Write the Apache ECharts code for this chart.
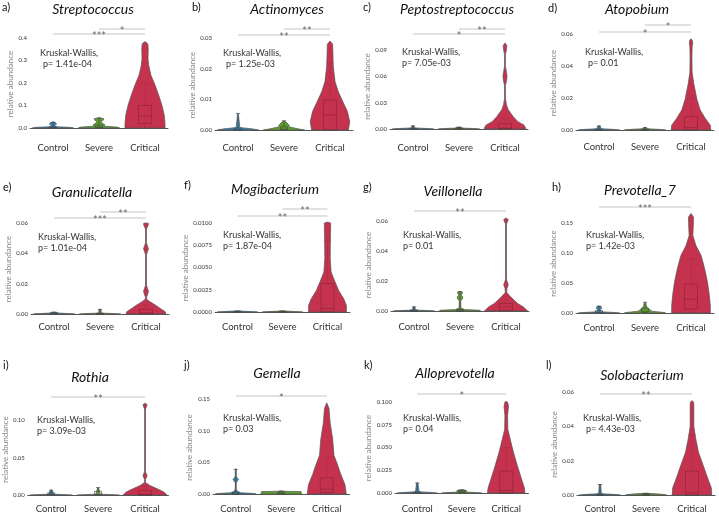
<!DOCTYPE html>
<html lang="en">
<head>
<meta charset="UTF-8">
<title>Relative abundance by severity</title>
<style>html,body{margin:0;padding:0;background:#fff;}</style>
</head>
<body>
<div id="chart" style="width:719px;height:514px;"></div>
<script src="https://cdn.jsdelivr.net/npm/echarts@6/dist/echarts.min.js"></script>
<script>
// ---- data ----
var groups = ['Control', 'Severe', 'Critical'];
var panelTags = ['a)', 'b)', 'c)', 'd)', 'e)', 'f)', 'g)', 'h)', 'i)', 'j)', 'k)', 'l)'];
var genera = ['Streptococcus', 'Actinomyces', 'Peptostreptococcus', 'Atopobium',
    'Granulicatella', 'Mogibacterium', 'Veillonella', 'Prevotella_7',
    'Rothia', 'Gemella', 'Alloprevotella', 'Solobacterium'];
var kwPvalues = ['1.41e-04', '1.25e-03', '7.05e-03', '0.01', '1.01e-04', '1.87e-04',
    '0.01', '1.42e-03', '3.09e-03', '0.03', '0.04', '4.43e-03'];

var yTicks = [
    [0, 0.1, 0.2, 0.3, 0.4], [0, 0.01, 0.02, 0.03], [0, 0.03, 0.06, 0.09], [0, 0.02, 0.04, 0.06],
    [0, 0.02, 0.04, 0.06], [0, 0.0025, 0.005, 0.0075, 0.01], [0, 0.02, 0.04, 0.06], [0, 0.05, 0.1, 0.15],
    [0, 0.05, 0.1], [0, 0.05, 0.1, 0.15], [0, 0.025, 0.05, 0.075, 0.1], [0, 0.02, 0.04, 0.06]
];
var tickDigits = [1, 2, 2, 2, 2, 4, 2, 2, 2, 2, 3, 2];

// violin outlines: [value, half width as share of the category band]
var controlViolin = [
    [[0, 0.45], [0.003, 0.35], [0.006, 0.05], [0.012, 0.04], [0.018, 0.08], [0.024, 0.05], [0.028, 0]],
    [[0, 0.45], [0.0004, 0.3], [0.0008, 0.04], [0.005, 0.01], [0.0053, 0]],
    [[0, 0.45], [0.0006, 0.3], [0.0012, 0.03], [0.0035, 0.02], [0.0038, 0]],
    [[0, 0.45], [0.0004, 0.3], [0.0008, 0.05], [0.0025, 0.02], [0.0027, 0]],
    [[0, 0.45], [0.0003, 0.3], [0.0006, 0.1], [0.001, 0.08], [0.0012, 0]],
    [[0, 0.45], [0.00005, 0.3], [0.0001, 0.1], [0.00015, 0]],
    [[0, 0.45], [0.0003, 0.3], [0.0006, 0.03], [0.0027, 0.02], [0.003, 0]],
    [[0, 0.45], [0.001, 0.3], [0.002, 0.05], [0.005, 0.02], [0.008, 0.06], [0.011, 0.04], [0.012, 0]],
    [[0, 0.45], [0.0006, 0.3], [0.0012, 0.05], [0.003, 0.04], [0.0065, 0.02], [0.007, 0]],
    [[0, 0.45], [0.001, 0.4], [0.002, 0.12], [0.004, 0.04], [0.008, 0.01], [0.018, 0.01], [0.021, 0.04],
        [0.023, 0.06], [0.025, 0.04], [0.028, 0.01], [0.039, 0.01], [0.04, 0]],
    [[0, 0.45], [0.0007, 0.3], [0.0015, 0.04], [0.011, 0.015], [0.0115, 0]],
    [[0, 0.45], [0.0004, 0.3], [0.0008, 0.03], [0.006, 0.015], [0.0063, 0]]
];
var severeViolin = [
    [[0, 0.45], [0.004, 0.4], [0.008, 0.12], [0.016, 0.12], [0.022, 0.06], [0.03, 0.05], [0.036, 0.1], [0.042, 0.1], [0.045, 0]],
    [[0, 0.45], [0.0004, 0.3], [0.001, 0.12], [0.0018, 0.1], [0.0025, 0.05], [0.003, 0]],
    [[0, 0.45], [0.0006, 0.3], [0.001, 0.08], [0.0018, 0.06], [0.0022, 0]],
    [[0, 0.45], [0.0004, 0.3], [0.0008, 0.04], [0.0015, 0.02], [0.0017, 0]],
    [[0, 0.45], [0.0003, 0.3], [0.0006, 0.03], [0.003, 0.02], [0.0032, 0]],
    [[0, 0.45], [0.00005, 0.3], [0.0001, 0.1], [0.00015, 0]],
    [[0, 0.45], [0.0005, 0.43], [0.001, 0.1], [0.002, 0.02], [0.007, 0.015], [0.008, 0.055], [0.0095, 0.06],
        [0.0104, 0.03], [0.011, 0.03], [0.0116, 0.055], [0.0125, 0.05], [0.013, 0]],
    [[0, 0.45], [0.001, 0.4], [0.003, 0.15], [0.006, 0.1], [0.009, 0.05], [0.012, 0.03], [0.016, 0.02], [0.018, 0]],
    [[0, 0.45], [0.0006, 0.3], [0.0012, 0.04], [0.008, 0.02], [0.01, 0]],
    [[0, 0.45], [0.004, 0.43], [0.0045, 0]],
    [[0, 0.45], [0.0006, 0.3], [0.001, 0.12], [0.003, 0.1], [0.0035, 0]],
    [[0, 0.45], [0.0003, 0.4], [0.0008, 0.2], [0.001, 0]]
];
var criticalViolin = [
    [[0, 0.435], [0.019, 0.435], [0.056, 0.42], [0.1, 0.37], [0.145, 0.3], [0.19, 0.22], [0.234, 0.13],
        [0.279, 0.08], [0.308, 0.065], [0.353, 0.07], [0.375, 0.06], [0.384, 0]],
    [[0, 0.4], [0.0027, 0.43], [0.006, 0.38], [0.0092, 0.28], [0.0125, 0.18], [0.0158, 0.11], [0.021, 0.07],
        [0.028, 0.058], [0.029, 0]],
    [[0, 0.45], [0.001, 0.45], [0.0046, 0.41], [0.0084, 0.28], [0.014, 0.18], [0.022, 0.07], [0.028, 0.03],
        [0.035, 0.01], [0.05, 0.01], [0.054, 0.03], [0.06, 0.045], [0.065, 0.03], [0.072, 0.01], [0.085, 0.01],
        [0.09, 0.03], [0.095, 0.04], [0.098, 0]],
    [[0, 0.43], [0.003, 0.42], [0.0073, 0.31], [0.0125, 0.2], [0.019, 0.13], [0.029, 0.06], [0.036, 0.025],
        [0.045, 0.02], [0.052, 0.025], [0.054, 0.036], [0.056, 0.03], [0.057, 0]],
    [[0, 0.43], [0.0015, 0.42], [0.0037, 0.31], [0.006, 0.2], [0.008, 0.09], [0.0095, 0.02], [0.011, 0.01],
        [0.0125, 0.03], [0.015, 0.054], [0.017, 0.03], [0.019, 0.01], [0.039, 0.01], [0.041, 0.03], [0.043, 0.054],
        [0.045, 0.03], [0.047, 0.01], [0.056, 0.01], [0.059, 0.054], [0.0598, 0.05], [0.06, 0]],
    [[0, 0.42], [0.00075, 0.42], [0.0015, 0.36], [0.0024, 0.25], [0.0036, 0.15], [0.0045, 0.08], [0.006, 0.06],
        [0.0085, 0.065], [0.0097, 0.07], [0.01, 0.07], [0.0101, 0]],
    [[0, 0.47], [0.0027, 0.38], [0.0049, 0.26], [0.0071, 0.18], [0.0104, 0.07], [0.0125, 0.015], [0.015, 0.02],
        [0.0175, 0.05], [0.02, 0.02], [0.0215, 0.01], [0.058, 0.01], [0.061, 0.05], [0.062, 0]],
    [[0, 0.42], [0.012, 0.42], [0.029, 0.4], [0.051, 0.36], [0.073, 0.3], [0.096, 0.22], [0.112, 0.11],
        [0.129, 0.04], [0.145, 0.05], [0.16, 0.054], [0.166, 0]],
    [[0, 0.47], [0.0043, 0.4], [0.0087, 0.25], [0.013, 0.1], [0.017, 0.01], [0.021, 0.01], [0.026, 0.045],
        [0.031, 0.01], [0.115, 0.01], [0.121, 0.045], [0.123, 0]],
    [[0, 0.43], [0.015, 0.4], [0.031, 0.31], [0.046, 0.24], [0.061, 0.16], [0.087, 0.13], [0.112, 0.075],
        [0.135, 0.05], [0.144, 0]],
    [[0, 0.42], [0.0054, 0.41], [0.016, 0.34], [0.03, 0.25], [0.045, 0.16], [0.059, 0.09], [0.07, 0.035],
        [0.085, 0.03], [0.095, 0.05], [0.1, 0.03], [0.1005, 0]],
    [[0, 0.43], [0.0042, 0.42], [0.0099, 0.34], [0.0175, 0.24], [0.025, 0.14], [0.033, 0.08], [0.04, 0.04],
        [0.052, 0.04], [0.054, 0.036], [0.055, 0]]
];

// box summaries: [min, q1, median, q3, max]
var controlBox = [
    [0, 0, 0.002, 0.006, 0.025], [0, 0, 0, 0.0006, 0.0054], [0, 0, 0, 0.001, 0.0035], [0, 0, 0, 0.0006, 0.0025],
    [0, 0, 0.0002, 0.0006, 0.0012], [0, 0, 0, 0.00005, 0.0001], [0, 0, 0, 0.0008, 0.0027], [0, 0, 0.001, 0.004, 0.011],
    [0, 0, 0.001, 0.003, 0.0065], [0, 0, 0.001, 0.003, 0.039], [0, 0, 0, 0.001, 0.011], [0, 0, 0, 0.0005, 0.0061]
];
var severeBox = [
    [0, 0.001, 0.004, 0.012, 0.045], [0, 0, 0.0003, 0.001, 0.003], [0, 0, 0.0004, 0.0012, 0.002], [0, 0, 0.0002, 0.0006, 0.0015],
    [0, 0, 0, 0.0005, 0.003], [0, 0, 0, 0.00005, 0.0001], [0, 0, 0.0002, 0.001, 0.013], [0, 0.001, 0.003, 0.008, 0.018],
    [0, 0, 0.001, 0.005, 0.01], [0, 0.0005, 0.0015, 0.0035, 0.005], [0, 0.0005, 0.0015, 0.003, 0.0035], [0, 0, 0.0003, 0.0008, 0.001]
];
var criticalBox = [
    [0, 0.02, 0.053, 0.1, 0.2], [0, 0, 0.0049, 0.0098, 0.022], [0, 0, 0.001, 0.006, 0.012], [0, 0, 0.0015, 0.0083, 0.02],
    [0, 0, 0.0008, 0.003, 0.006], [0, 0, 0.0004, 0.0032, 0.008], [0, 0.0005, 0.0027, 0.005, 0.01], [0, 0.0067, 0.023, 0.048, 0.09],
    [0, 0, 0.001, 0.006, 0.012], [0, 0.0026, 0.0077, 0.0255, 0.06], [0, 0, 0.003, 0.024, 0.05], [0, 0, 0.0013, 0.014, 0.035]
];

// significance brackets: [from group, to group, stars]
var signif = [
    [[0, 2, '***'], [1, 2, '*']], [[0, 2, '**'], [1, 2, '**']], [[0, 2, '*'], [1, 2, '**']], [[0, 2, '*'], [1, 2, '*']],
    [[0, 2, '***'], [1, 2, '**']], [[0, 2, '**'], [1, 2, '**']], [[0, 2, '**']], [[0, 2, '***']],
    [[0, 2, '**']], [[0, 2, '*']], [[0, 2, '*']], [[0, 2, '**']]
];

// ---- layout (pixels) ----
var layout = [
    { left: 30, band: 46, p0: 128, pTop: 38, vTop: 0.4, top: 37, labelY: 145, nameGap: 16, title: [93, 9], tag: [2, 7], kw: [40, 53], ind: 3, brY: [34, 29] },
    { left: 215, band: 46, p0: 130, pTop: 38, vTop: 0.03, top: 37, labelY: 145, nameGap: 16, title: [287, 9], tag: [192, 7], kw: [223, 53], ind: 3, brY: [35, 29] },
    { left: 390, band: 46, p0: 129, pTop: 50, vTop: 0.09, top: 41, labelY: 145, nameGap: 16, title: [457, 9], tag: [363, 7], kw: [402, 52], ind: 0, brY: [34, 29] },
    { left: 576, band: 46, p0: 130, pTop: 34, vTop: 0.06, top: 33, labelY: 144, nameGap: 17, title: [637, 9], tag: [548, 8], kw: [585, 52], ind: 3, brY: [32, 25] },
    { left: 31, band: 46, p0: 314, pTop: 223, vTop: 0.06, top: 221, labelY: 324, nameGap: 19, title: [92, 192], tag: [3, 187], kw: [38, 237], ind: 0, brY: [218, 212] },
    { left: 215, band: 45, p0: 312, pTop: 223, vTop: 0.01, top: 221, labelY: 324, nameGap: 19, title: [275, 189], tag: [184, 185], kw: [223, 235], ind: 0, brY: [216, 209] },
    { left: 391, band: 46, p0: 311, pTop: 221, vTop: 0.06, top: 216, labelY: 324, nameGap: 18, title: [453, 191], tag: [363, 187], kw: [403, 235], ind: 0, brY: [211] },
    { left: 576, band: 46, p0: 313, pTop: 223, vTop: 0.15, top: 211, labelY: 325, nameGap: 17, title: [640, 190], tag: [552, 187], kw: [586, 235], ind: 0, brY: [207] },
    { left: 27.5, band: 47, p0: 498, pTop: 421, vTop: 0.1, top: 401, labelY: 509, nameGap: 18, title: [90, 377], tag: [3, 365], kw: [37, 420], ind: 0, brY: [397] },
    { left: 213, band: 45.5, p0: 497, pTop: 399, vTop: 0.15, top: 398, labelY: 509, nameGap: 20, title: [277, 373], tag: [184, 365], kw: [223, 418], ind: 0, brY: [396] },
    { left: 395, band: 44.5, p0: 495, pTop: 402, vTop: 0.1, top: 400, labelY: 508, nameGap: 22, title: [455, 373], tag: [364, 365], kw: [403, 418], ind: 0, brY: [394] },
    { left: 577, band: 46, p0: 497, pTop: 392, vTop: 0.06, top: 391, labelY: 508, nameGap: 18, title: [642, 375], tag: [546, 365], kw: [583, 418], ind: 3, brY: [394] }
];

var groupColors = ['#2f86b9', '#5c9e2e', '#c5324e'];
var FONT = 'Lato, "Liberation Sans", sans-serif';

function violinRenderer(p) {
    var profiles = [controlViolin[p], severeViolin[p], criticalViolin[p]];
    var boxes = [controlBox[p], severeBox[p], criticalBox[p]];
    return function (params, api) {
        var g = api.value(0);
        var band = api.size([1, 0])[0];
        var cx = api.coord([g, 0])[0];
        var leftSide = [], rightSide = [];
        profiles[g].forEach(function (pt) {
            var y = api.coord([g, pt[0]])[1];
            leftSide.push([cx - pt[1] * band, y]);
            rightSide.push([cx + pt[1] * band, y]);
        });
        var children = [{
            type: 'polygon',
            shape: { points: leftSide.concat(rightSide.reverse()) },
            style: { fill: groupColors[g], stroke: '#555', lineWidth: 0.7 }
        }];
        var b = boxes[g].map(function (v) { return api.coord([g, v])[1]; });
        var crit = g === 2;
        var hw = crit ? 6.5 : 3.5;
        var st = { stroke: crit ? 'rgba(90,20,35,0.4)' : 'rgba(70,70,70,0.85)', lineWidth: 0.8, fill: null };
        var wh = { stroke: crit ? 'rgba(90,20,35,0.18)' : 'rgba(70,70,70,0.85)', lineWidth: 0.8 };
        children.push(
            { type: 'line', shape: { x1: cx, y1: b[0], x2: cx, y2: b[1] }, style: wh },
            { type: 'line', shape: { x1: cx, y1: b[3], x2: cx, y2: b[4] }, style: wh },
            { type: 'rect', shape: { x: cx - hw, y: b[3], width: hw * 2, height: Math.max(b[1] - b[3], 0.5) }, style: st },
            { type: 'line', shape: { x1: cx - hw, y1: b[2], x2: cx + hw, y2: b[2] }, style: st },
            { type: 'line', shape: { x1: cx - hw / 1.6, y1: b[4], x2: cx + hw / 1.6, y2: b[4] }, style: wh }
        );
        return { type: 'group', children: children };
    };
}

function bracketRenderer(p) {
    return function (params, api) {
        var s = signif[p][params.dataIndex];
        var y = layout[p].brY[params.dataIndex];
        var x1 = api.coord([s[0], 0])[0];
        var x2 = api.coord([s[1], 0])[0];
        return {
            type: 'group',
            children: [
                { type: 'line', shape: { x1: x1, y1: y, x2: x2, y2: y }, style: { stroke: '#b5b5b5', lineWidth: 0.8 } },
                { type: 'text', style: { text: s[2], x: (x1 + x2) / 2, y: y + 2, align: 'center', verticalAlign: 'middle', fill: '#6a6a6a', font: '11px ' + FONT } }
            ]
        };
    };
}

var grids = [], xAxes = [], yAxes = [], series = [], graphics = [];
layout.forEach(function (L, p) {
    var ppu = (L.p0 - L.pTop) / L.vTop;
    var bottom = L.p0 + 3;
    grids.push({ left: L.left, top: L.top, width: L.band * 3, height: bottom - L.top, containLabel: false });
    xAxes.push({
        type: 'category', gridIndex: p, data: groups,
        axisLine: { onZero: true, lineStyle: { color: '#555', width: 1 } },
        axisTick: { show: false },
        axisLabel: { margin: L.labelY - L.p0 - 5, fontSize: 9.5, color: '#333', fontFamily: FONT }
    });
    var digits = tickDigits[p];
    yAxes.push({
        type: 'value', gridIndex: p,
        min: -(bottom - L.p0) / ppu, max: (L.p0 - L.top) / ppu,
        axisLine: { show: false }, axisTick: { show: false }, splitLine: { show: false },
        axisLabel: {
            customValues: yTicks[p], margin: 3, fontSize: 6, color: '#333', fontFamily: FONT,
            formatter: function (v) { return v.toFixed(digits); }
        },
        name: 'relative abundance', nameLocation: 'middle', nameGap: L.nameGap,
        nameTextStyle: { fontSize: 8, color: '#8a8a8a', fontFamily: FONT }
    });
    series.push({
        type: 'custom', xAxisIndex: p, yAxisIndex: p,
        data: [[0, 0], [1, 0], [2, 0]], encode: { x: 0, y: 1 },
        renderItem: violinRenderer(p), clip: false, silent: true
    });
    series.push({
        type: 'custom', xAxisIndex: p, yAxisIndex: p,
        data: signif[p].map(function (s) { return [s[0], 0]; }), encode: { x: 0, y: 1 },
        renderItem: bracketRenderer(p), clip: false, silent: true
    });
    graphics.push(
        { type: 'text', x: L.tag[0], y: L.tag[1], style: { text: panelTags[p], font: '11px ' + FONT, fill: '#111', verticalAlign: 'middle' } },
        { type: 'text', x: L.title[0], y: L.title[1], style: { text: genera[p], font: 'italic 14px ' + FONT, fill: '#111', align: 'center', verticalAlign: 'middle' } },
        { type: 'text', x: L.kw[0], y: L.kw[1], style: { text: 'Kruskal-Wallis,', font: '9px ' + FONT, fill: '#333', verticalAlign: 'middle' } },
        { type: 'text', x: L.kw[0] + L.ind, y: L.kw[1] + 11, style: { text: 'p= ' + kwPvalues[p], font: '9px ' + FONT, fill: '#333', verticalAlign: 'middle' } }
    );
});

var chart = echarts.init(document.getElementById('chart'));
chart.setOption({
    backgroundColor: '#fff',
    animation: false,
    grid: grids,
    xAxis: xAxes,
    yAxis: yAxes,
    series: series,
    graphic: graphics
});
</script>
</body>
</html>
